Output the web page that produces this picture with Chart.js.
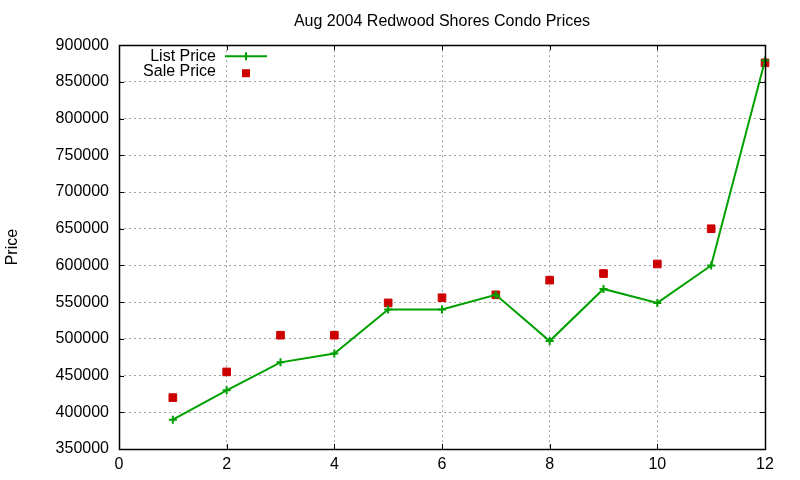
<!DOCTYPE html>
<html>
<head>
<meta charset="utf-8">
<script src="https://cdn.jsdelivr.net/npm/chart.js@4"></script>
<style>
html, body { margin: 0; padding: 0; background: #fff; }
#wrap { width: 800px; height: 480px; }
</style>
</head>
<body>
<div id="wrap"><canvas id="c"></canvas></div>
<script>
// data
var months = [1, 2, 3, 4, 5, 6, 7, 8, 9, 10, 11, 12];
var listPrice = [390000, 430000, 468000, 480000, 540000, 540000, 560000, 497000, 568000, 549000, 600000, 879000];
var salePrice = [420000, 455000, 505000, 505000, 549000, 556000, 560000, 580000, 589000, 602000, 650000, 876000];
var seriesNames = ['List Price', 'Sale Price'];

var FONT = 'Liberation Sans, Arial, sans-serif';

function toPoints(xs, ys) {
    var out = [];
    for (var i = 0; i < xs.length; i++) out.push({ x: xs[i], y: ys[i] });
    return out;
}

// frame + inward tick marks, like gnuplot
var framePlugin = {
    id: 'frame',
    afterDatasetsDraw: function (chart) {
        var ctx = chart.ctx, a = chart.chartArea;
        var xs = chart.scales.x, ys = chart.scales.y;
        var tl = 5;
        ctx.save();
        ctx.strokeStyle = '#000';
        ctx.lineWidth = 1;
        ctx.beginPath();
        xs.ticks.forEach(function (t) {
            var px = Math.round(xs.getPixelForValue(t.value)) + 0.5;
            ctx.moveTo(px, a.bottom); ctx.lineTo(px, a.bottom - tl);
            ctx.moveTo(px, a.top); ctx.lineTo(px, a.top + tl);
        });
        ys.ticks.forEach(function (t) {
            var py = Math.round(ys.getPixelForValue(t.value)) + 0.5;
            ctx.moveTo(a.left, py); ctx.lineTo(a.left + tl, py);
            ctx.moveTo(a.right, py); ctx.lineTo(a.right - tl, py);
        });
        ctx.stroke();
        ctx.lineWidth = 1.5;
        ctx.strokeRect(Math.round(a.left) + 0.5, Math.round(a.top) + 0.5,
            Math.round(a.right - a.left), Math.round(a.bottom - a.top));
        ctx.restore();
    }
};

// legend inside the plot, text right aligned before the sample
var keyPlugin = {
    id: 'key',
    afterDraw: function (chart) {
        var ctx = chart.ctx, a = chart.chartArea;
        var textRight = a.left + 97, sx0 = a.left + 106, sx1 = a.left + 148;
        var mx = (sx0 + sx1) / 2;
        var rows = [a.top + 11, a.top + 26];
        ctx.save();
        ctx.font = '16px ' + FONT;
        ctx.fillStyle = '#000';
        ctx.textAlign = 'right';
        ctx.textBaseline = 'middle';
        chart.data.datasets.forEach(function (ds, i) {
            var y = rows[i];
            ctx.fillText(ds.label, textRight, y);
            if (ds.showLine) {
                ctx.strokeStyle = ds.borderColor;
                ctx.lineWidth = 2;
                ctx.beginPath();
                ctx.moveTo(sx0, y); ctx.lineTo(sx1, y);
                ctx.moveTo(mx, y - 4); ctx.lineTo(mx, y + 4);
                ctx.stroke();
            } else {
                ctx.fillStyle = ds.pointBackgroundColor;
                ctx.fillRect(mx - 4, y - 4 + 2, 8, 8);
                ctx.fillStyle = '#000';
            }
        });
        ctx.restore();
    }
};

new Chart(document.getElementById('c'), {
    type: 'scatter',
    data: {
        datasets: [{
            label: seriesNames[0],
            data: toPoints(months, listPrice),
            showLine: true,
            clip: false,
            borderColor: '#00a000',
            backgroundColor: '#00a000',
            borderWidth: 2,
            pointStyle: 'cross',
            pointRadius: 4,
            pointBorderWidth: 2,
            pointBorderColor: '#00a000',
            pointBackgroundColor: '#00a000',
            tension: 0
        }, {
            label: seriesNames[1],
            data: toPoints(months, salePrice),
            showLine: false,
            clip: false,
            pointStyle: 'rect',
            pointRadius: 5.4,
            pointBorderWidth: 1,
            pointBorderColor: '#cc0000',
            pointBackgroundColor: '#cc0000',
            backgroundColor: '#cc0000'
        }]
    },
    options: {
        responsive: true,
        maintainAspectRatio: false,
        animation: false,
        devicePixelRatio: 1,
        layout: { padding: { top: 0, right: 35, bottom: 0, left: 3 } },
        plugins: {
            legend: { display: false },
            tooltip: { enabled: false },
            title: {
                display: true,
                text: 'Aug 2004 Redwood Shores Condo Prices',
                fullSize: false,
                color: '#000',
                font: { family: FONT, size: 16, weight: 'normal' },
                padding: { top: 12, bottom: 14 }
            }
        },
        scales: {
            x: {
                type: 'linear',
                min: 0, max: 12,
                grid: { color: '#a0a0a0', drawTicks: false },
                border: { display: false, dash: [2, 3] },
                ticks: {
                    stepSize: 2, padding: 6, color: '#000',
                    font: { family: FONT, size: 16 },
                    maxRotation: 0
                },
                afterFit: function (s) { s.height = 31; }
            },
            y: {
                min: 350000, max: 900000,
                grid: { color: '#a0a0a0', drawTicks: false },
                border: { display: false, dash: [2, 3] },
                ticks: {
                    stepSize: 50000, padding: 10, color: '#000',
                    font: { family: FONT, size: 16 },
                    callback: function (v) { return String(v); }
                },
                title: {
                    display: true, text: 'Price', color: '#000',
                    font: { family: FONT, size: 16 },
                    padding: { top: 0, bottom: 0 }
                },
                afterFit: function (s) { s.width = 116; }
            }
        }
    },
    plugins: [framePlugin, keyPlugin]
});
</script>
</body>
</html>
